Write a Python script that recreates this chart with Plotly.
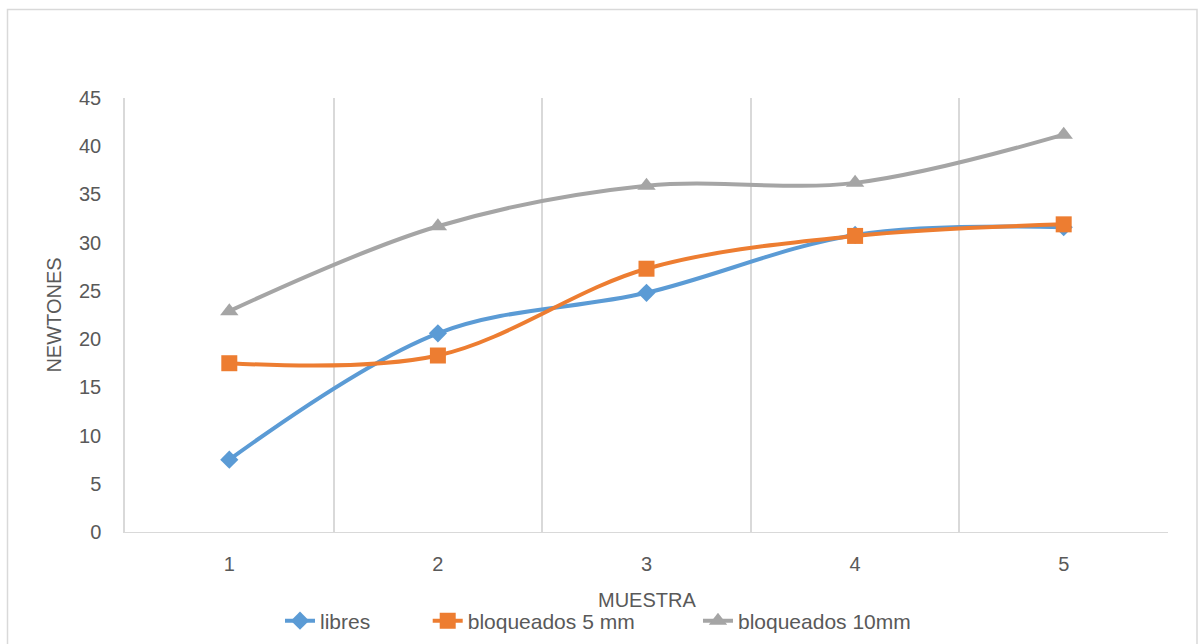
import plotly.graph_objects as go

muestra = [1, 2, 3, 4, 5]
libres = [7.5, 20.6, 24.8, 30.8, 31.6]
bloq5 = [17.5, 18.3, 27.3, 30.7, 31.9]
bloq10 = [22.9, 31.7, 35.9, 36.2, 41.2]
y_ticks = [0, 5, 10, 15, 20, 25, 30, 35, 40, 45]
series_names = ["libres", "bloqueados 5 mm", "bloqueados 10mm"]
x_title = "MUESTRA"
y_title = "NEWTONES"

FONT = "Liberation Sans"
TXT = "#595959"
GRID = "#D9D9D9"
NBSP = "\u00a0"

fig = go.Figure()
series = [
    (series_names[0] + NBSP * 9, libres, "#5B9BD5", "diamond", 14),
    (series_names[1] + NBSP * 10, bloq5, "#ED7D31", "square", 16),
    (series_names[2], bloq10, "#A5A5A5", "triangle-up", 16),
]
for name, vals, col, sym, sz in series:
    fig.add_trace(go.Scatter(
        x=muestra, y=vals, name=name, mode="lines+markers",
        line=dict(color=col, width=4, shape="spline", smoothing=1),
        marker=dict(symbol=sym, size=sz, color=col),
    ))

fig.update_layout(
    width=1199, height=644,
    margin=dict(l=125, r=31, t=98, b=112, autoexpand=False),
    paper_bgcolor="white", plot_bgcolor="white",
    font=dict(family=FONT, size=20, color=TXT),
    showlegend=True,
    legend=dict(orientation="h", xref="container", yref="container",
                x=280 / 1199, xanchor="left", y=(644 - 621) / 644, yanchor="middle",
                font=dict(size=21, color=TXT), itemwidth=30, tracegroupgap=0,
                bgcolor="rgba(0,0,0,0)"),
    xaxis=dict(
        range=[0.5, 5.5], tickvals=muestra, ticktext=[str(m) for m in muestra],
        showgrid=False, zeroline=False, showline=True, linecolor=GRID, linewidth=1,
        ticks="", ticklabelstandoff=14, tickfont=dict(size=20, color=TXT),
        minor=dict(tickvals=[0.5, 1.5, 2.5, 3.5, 4.5, 5.5], showgrid=True, gridcolor=GRID, gridwidth=1.5, ticks=""),
        automargin=False, fixedrange=True,
    ),
    yaxis=dict(
        range=[0, 45], tickvals=y_ticks, showgrid=False, zeroline=False,
        showline=True, linecolor=GRID, linewidth=1.5,
        ticks="", ticklabelstandoff=18, tickfont=dict(size=20, color=TXT),
        title=dict(text=y_title, font=dict(size=20, color=TXT), standoff=12),
        automargin=False, fixedrange=True,
    ),
    annotations=[dict(text=x_title, xref="paper", yref="paper", x=0.5, y=(532 - 600) / 434,
                      xanchor="center", yanchor="middle", showarrow=False,
                      font=dict(size=20, color=TXT))],
    shapes=[dict(type="rect", xref="paper", yref="paper",
                 x0=(7.5 - 125) / 1043, x1=(1197 - 125) / 1043,
                 y0=(532 - 660) / 434, y1=(532 - 9.5) / 434,
                 line=dict(color=GRID, width=1.5), fillcolor="rgba(0,0,0,0)", layer="below")],
)

fig.write_html("out.html", config={"displayModeBar": False},
               post_script="document.body.style.margin='0';document.body.style.overflow='hidden';")
